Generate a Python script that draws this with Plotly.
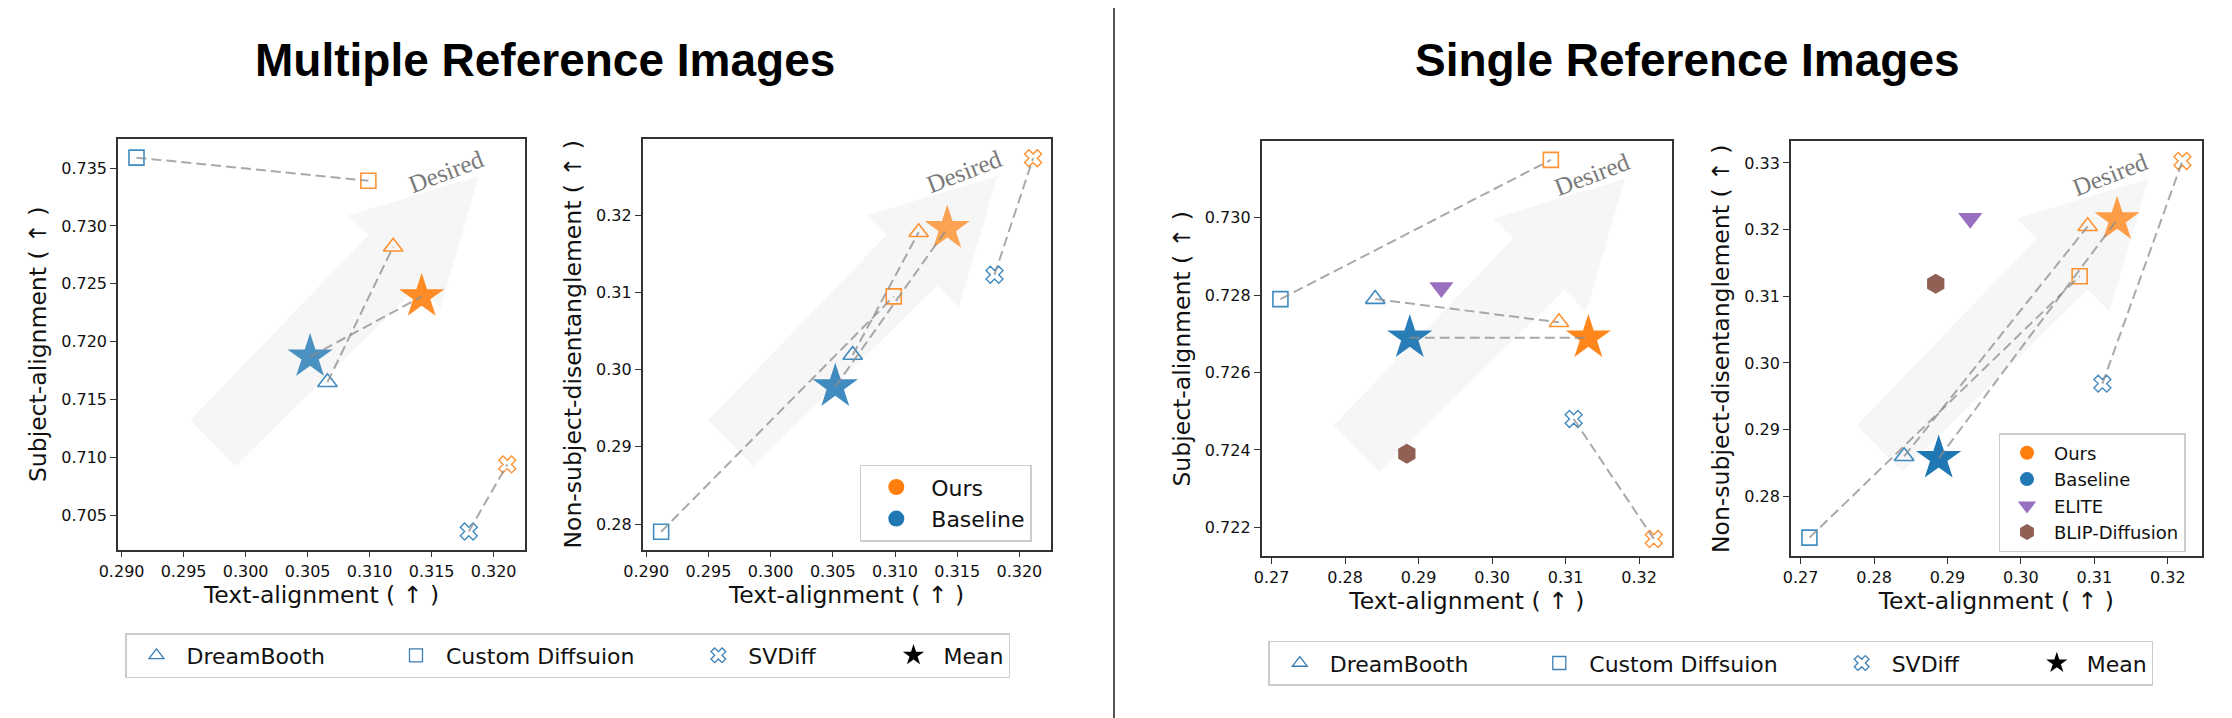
import plotly.graph_objects as go

# ---------------- data ----------------
methods = ["DreamBooth", "Custom Diffsuion", "SVDiff", "Mean"]

# Multiple reference images (text-alignment is shared by both panels)
multi_base_text = [0.3066, 0.2912, 0.3180, 0.3052]
multi_ours_text = [0.3119, 0.3099, 0.3211, 0.3142]
multi_base_subj = [0.7165, 0.7359, 0.7036, 0.7187]
multi_ours_subj = [0.7282, 0.7339, 0.7094, 0.7239]
multi_base_nonsubj = [0.3019, 0.2790, 0.3123, 0.2978]
multi_ours_nonsubj = [0.3178, 0.3095, 0.3274, 0.3183]

# Single reference images
single_base_text = [0.2841, 0.2712, 0.3111, 0.2888]
single_ours_text = [0.3091, 0.3080, 0.3220, 0.3131]
single_base_subj = [0.7279, 0.7279, 0.7248, 0.7269]
single_ours_subj = [0.7273, 0.7315, 0.7217, 0.7269]
single_base_nonsubj = [0.2860, 0.2738, 0.2969, 0.2857]
single_ours_nonsubj = [0.3205, 0.3130, 0.3303, 0.3215]

other_methods = ["ELITE", "BLIP-Diffusion"]
other_text = [0.2931, 0.2884]
other_subj = [0.7282, 0.7239]
other_nonsubj = [0.3217, 0.3119]

# tick values / labels
multi_x_ticks = [0.290, 0.295, 0.300, 0.305, 0.310, 0.315, 0.320]
multi_subj_ticks = [0.705, 0.710, 0.715, 0.720, 0.725, 0.730, 0.735]
multi_nonsubj_ticks = [0.28, 0.29, 0.30, 0.31, 0.32]
single_x_ticks = [0.27, 0.28, 0.29, 0.30, 0.31, 0.32]
single_subj_ticks = [0.722, 0.724, 0.726, 0.728, 0.730]
single_nonsubj_ticks = [0.28, 0.29, 0.30, 0.31, 0.32, 0.33]

titles = ["Multiple Reference Images", "Single Reference Images"]
x_title = "Text-alignment ( \u2191 )"
y_titles = ["Subject-alignment ( \u2191 )", "Non-subject-disentanglement ( \u2191 )"]

# ---------------- style ----------------
W, H = 2232, 718
BLUE, ORANGE, PURPLE, BROWN = "#1f77b4", "#ff7f0e", "#9467bd", "#8c564b"
symbols = ["triangle-up-open", "square-open", "x-open", "star"]
sizes = [17, 15, 15, 34]
lwidths = [1.6, 1.6, 1.4, 0]
FONT = "DejaVu Sans, Verdana, sans-serif"


def px_dom(a, b, total):
    return [a / total, b / total]


def py_dom(top, bottom):
    return [1 - bottom / H, 1 - top / H]


panels = [
    dict(xd=px_dom(110, 517, W), yd=py_dom(131, 541.7), xr=[0.28971, 0.32253], yr=[0.70203, 0.73751],
         xt=multi_x_ticks, xf="{:.3f}", yt=multi_subj_ticks, yf="{:.3f}", ytitle=y_titles[0],
         bx=multi_base_text, by=multi_base_subj, ox=multi_ours_text, oy=multi_ours_subj, others=None,
         op=(0.8, 0.9), dx=0.005, desired=(0.807, 0.921)),
    dict(xd=px_dom(634.6, 1042.5, W), yd=py_dom(131, 541.7), xr=[0.28971, 0.32250], yr=[0.27667, 0.32989],
         xt=multi_x_ticks, xf="{:.3f}", yt=multi_nonsubj_ticks, yf="{:.2f}", ytitle=y_titles[1],
         bx=multi_base_text, by=multi_base_nonsubj, ox=multi_ours_text, oy=multi_ours_nonsubj, others=None,
         op=(0.85, 0.7), dx=-0.012, desired=(0.788, 0.921)),
    dict(xd=px_dom(1253.6, 1664.3, W), yd=py_dom(133.3, 548.3), xr=[0.26864, 0.32452], yr=[0.72125, 0.73198],
         xt=single_x_ticks, xf="{:.2f}", yt=single_subj_ticks, yf="{:.3f}", ytitle=y_titles[0],
         bx=single_base_text, by=single_base_subj, ox=single_ours_text, oy=single_ours_subj, others=other_subj,
         op=(0.95, 0.95), dx=0.003, desired=(0.804, 0.920)),
    dict(xd=px_dom(1782.8, 2193.9, W), yd=py_dom(133.3, 548.3), xr=[0.26866, 0.32465], yr=[0.271, 0.33325],
         xt=single_x_ticks, xf="{:.2f}", yt=single_nonsubj_ticks, yf="{:.2f}", ytitle=y_titles[1],
         bx=single_base_text, by=single_base_nonsubj, ox=single_ours_text, oy=single_ours_nonsubj, others=other_nonsubj,
         op=(1.0, 0.75), dx=-0.012, desired=(0.777, 0.920)),
]

# "Desired" block arrow outline in axis-domain fractions
arrow_pts = [(0.172, 0.315), (0.283, 0.203), (0.735, 0.643), (0.787, 0.588),
             (0.882, 0.910), (0.560, 0.814), (0.610, 0.766)]

fig = go.Figure()
layout = dict(width=W, height=H, margin=dict(l=0, r=0, t=0, b=0, autoexpand=False),
              paper_bgcolor="white", plot_bgcolor="white",
              font=dict(family=FONT, color="#111"), showlegend=True)
shapes, annotations = [], []

for k, p in enumerate(panels):
    n = "" if k == 0 else str(k + 1)
    xa, ya = "x" + n, "y" + n
    common = dict(showgrid=False, zeroline=False, showline=True, linecolor="#333", linewidth=1.5,
                  mirror=True, ticks="outside", ticklen=6, tickwidth=1.3, tickcolor="#333",
                  automargin=False, tickfont=dict(family=FONT, size=16, color="#111"))
    layout["xaxis" + n] = dict(common, domain=p["xd"], range=p["xr"], anchor=ya,
                               tickvals=p["xt"], ticktext=[p["xf"].format(v) for v in p["xt"]],
                               title=dict(text=x_title, font=dict(family=FONT, size=23.5), standoff=2))
    layout["yaxis" + n] = dict(common, domain=p["yd"], range=p["yr"], anchor=xa,
                               tickvals=p["yt"], ticktext=[p["yf"].format(v) for v in p["yt"]],
                               title=dict(text=p["ytitle"], font=dict(family=FONT, size=23.5), standoff=8))

    # arrow
    path = "M " + " L ".join(f"{x + p['dx']:.4f},{y:.4f}" for x, y in arrow_pts) + " Z"
    shapes.append(dict(type="path", path=path, xref=xa + " domain", yref=ya + " domain",
                       fillcolor="rgba(0,0,0,0.035)", line=dict(width=0), layer="below"))
    annotations.append(dict(text="Desired", xref=xa + " domain", yref=ya + " domain",
                            x=p["desired"][0], y=p["desired"][1], xanchor="center", yanchor="middle",
                            showarrow=False, textangle=-21,
                            font=dict(family="Liberation Serif, Times New Roman, serif", size=25,
                                      color="#7a7a7a")))

    # other methods (single reference panels)
    if p["others"] is not None:
        fig.add_trace(go.Scatter(x=[other_text[0]], y=[p["others"][0]], mode="markers", xaxis=xa, yaxis=ya,
                                 name=other_methods[0], legend="legend2", showlegend=(k == 3), legendrank=3,
                                 marker=dict(symbol="triangle-down", size=21, color=PURPLE, opacity=0.95)))
        fig.add_trace(go.Scatter(x=[other_text[1]], y=[p["others"][1]], mode="markers", xaxis=xa, yaxis=ya,
                                 name=other_methods[1], legend="legend2", showlegend=(k == 3), legendrank=4,
                                 marker=dict(symbol="hexagon", size=20, color=BROWN, opacity=0.95)))

    # baseline and ours markers
    for xs, ys, col, op in [(p["bx"], p["by"], BLUE, p["op"][0]), (p["ox"], p["oy"], ORANGE, p["op"][1])]:
        fig.add_trace(go.Scatter(
            x=xs, y=ys, mode="markers", xaxis=xa, yaxis=ya, showlegend=False,
            marker=dict(symbol=symbols, size=sizes, color=col,
                        opacity=[0.85, 0.85, 0.85, op],
                        line=dict(color=col, width=lwidths))))

    # dashed connectors baseline -> ours
    for i in range(len(methods)):
        fig.add_trace(go.Scatter(
            x=[p["bx"][i], p["ox"][i]], y=[p["by"][i], p["oy"][i]], mode="lines",
            xaxis=xa, yaxis=ya, showlegend=False, hoverinfo="skip",
            line=dict(color="rgba(140,140,140,0.75)", width=2, dash="10px,5px")))

# ---------------- legend proxies ----------------
for leg, xa, ya, msize in [("legend", "x2", "y2", 16), ("legend2", "x4", "y4", 14)]:
    for r, (nm, col) in enumerate([("Ours", ORANGE), ("Baseline", BLUE)]):
        fig.add_trace(go.Scatter(x=[None], y=[None], mode="markers", xaxis=xa, yaxis=ya, name=nm,
                                 legend=leg, legendrank=r + 1,
                                 marker=dict(symbol="circle", size=msize, color=col)))

pad = "\u00a0"
pads = [8, 7, 9, 0]
for leg, xa, ya in [("legend3", "x", "y"), ("legend4", "x3", "y3")]:
    for i, m in enumerate(methods):
        if symbols[i] == "star":
            mk = dict(symbol="star", size=16, color="black")
        else:
            mk = dict(symbol=symbols[i], size=13, color="#3c7fb5", line=dict(color="#3c7fb5", width=1.3))
        fig.add_trace(go.Scatter(x=[None], y=[None], mode="markers", xaxis=xa, yaxis=ya,
                                 name=m + pad * pads[i], legend=leg, legendrank=i + 1, marker=mk))

leg_common = dict(bgcolor="white", bordercolor="#cccccc", borderwidth=1.5,
                  xanchor="left", yanchor="top", traceorder="normal")
layout["legend"] = dict(leg_common, x=851.8 / W, y=1 - 456.7 / H, font=dict(family=FONT, size=22),
                        itemwidth=60)
layout["legend2"] = dict(leg_common, x=1990.5 / W, y=1 - 425 / H, font=dict(family=FONT, size=18),
                         itemwidth=44)
layout["legend3"] = dict(leg_common, x=117 / W, y=1 - 625 / H, orientation="h", itemwidth=50,
                         font=dict(family=FONT, size=22))
layout["legend4"] = dict(leg_common, x=1260.3 / W, y=1 - 632.7 / H, orientation="h", itemwidth=50,
                         font=dict(family=FONT, size=22))

# titles and divider
for t, cx in zip(titles, [537, 1679]):
    annotations.append(dict(text="<b>" + t + "</b>", xref="paper", yref="paper", x=cx / W, y=1 - 52 / H,
                            xanchor="center", yanchor="middle", showarrow=False,
                            font=dict(family="Liberation Sans, Arial, sans-serif", size=46, color="black")))
shapes.append(dict(type="line", xref="paper", yref="paper", x0=1106 / W, x1=1106 / W, y0=0, y1=1,
                   line=dict(color="#555555", width=2)))

layout["shapes"] = shapes
layout["annotations"] = annotations
fig.update_layout(**layout)
fig.write_html("out.html")
